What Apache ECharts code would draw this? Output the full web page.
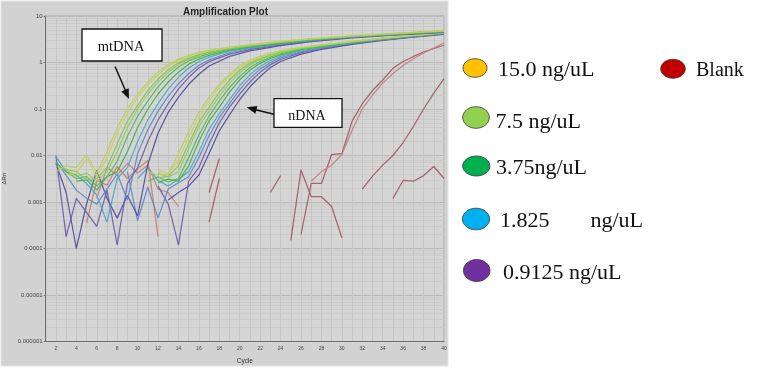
<!DOCTYPE html>
<html><head><meta charset="utf-8">
<script src="https://cdn.jsdelivr.net/npm/echarts@6/dist/echarts.min.js"></script>
<style>html,body{margin:0;padding:0;background:#fff}#c{width:762px;height:368px}</style>
</head><body><div id="c"></div><script>
// ---------- tick labels ----------
const xTickLabels = [2,4,6,8,10,12,14,16,18,20,22,24,26,28,30,32,34,36,38,40];
const yTickLabels = ['0.000001','0.00001','0.0001','0.001','0.01','0.1','1','10'];

// ---------- mtDNA curves [cycle, dRn] ----------
const mt15a = [[2,0.0045],[3,0.006],[4,0.0055],[5,0.0105],[6,0.0042],[7,0.012],[8,0.04],[9,0.1],[10,0.21],[11,0.38],[12,0.62],[13,0.92],[14,1.18],[15,1.42],[16,1.65],[17,1.85],[19,2.15],[21,2.42],[24,2.85],[27,3.25],[31,3.75],[35,4.25],[40,4.85]];
const mt15b = [[3,0.0038],[4,0.0042],[5,0.0085],[6,0.0035],[7,0.009],[8,0.03],[9,0.08],[10,0.18],[11,0.33],[12,0.55],[13,0.84],[14,1.1],[15,1.35],[16,1.58],[17,1.78],[19,2.1],[21,2.38],[24,2.8],[27,3.22],[31,3.72],[35,4.2],[40,4.8]];
const mt7a = [[2,0.006],[3,0.005],[4,0.0045],[5,0.003],[6,0.0032],[7,0.0055],[8,0.018],[9,0.055],[10,0.12],[11,0.25],[12,0.44],[13,0.7],[14,0.99],[15,1.24],[16,1.48],[17,1.7],[19,2.04],[21,2.33],[24,2.76],[27,3.18],[31,3.7],[35,4.18],[40,4.75]];
const mt7b = [[3,0.0048],[4,0.0036],[5,0.0042],[6,0.0028],[7,0.0045],[8,0.012],[9,0.04],[10,0.1],[11,0.21],[12,0.38],[13,0.62],[14,0.92],[15,1.18],[16,1.42],[17,1.65],[19,2.0],[21,2.3],[24,2.72],[27,3.15],[31,3.66],[35,4.15],[40,4.7]];
const mt3a = [[2,0.007],[3,0.0045],[4,0.0032],[5,0.0035],[6,0.0022],[7,0.0035],[8,0.0075],[9,0.026],[10,0.07],[11,0.15],[12,0.3],[13,0.52],[14,0.8],[15,1.08],[16,1.32],[17,1.55],[19,1.93],[21,2.24],[24,2.68],[27,3.1],[31,3.62],[35,4.12],[40,4.68]];
const mt3b = [[4,0.0028],[5,0.003],[6,0.0018],[7,0.0035],[8,0.0045],[9,0.012],[10,0.04],[11,0.1],[12,0.21],[13,0.38],[14,0.62],[15,0.92],[16,1.18],[17,1.42],[19,1.85],[21,2.15],[24,2.62],[27,3.05],[31,3.58],[35,4.1],[40,4.65]];
const mt1a = [[2,0.0095],[3,0.0045],[4,0.0038],[5,0.0025],[6,0.0014],[7,0.00037],[8,0.0032],[9,0.0055],[10,0.02],[11,0.058],[12,0.13],[13,0.27],[14,0.48],[15,0.76],[16,1.04],[17,1.3],[19,1.75],[21,2.08],[24,2.55],[27,3.0],[31,3.55],[35,4.05],[40,4.6]];
const mt1b = [[2,0.0075],[3,0.0038],[4,0.0018],[5,0.0012],[6,0.0009],[7,0.0019],[8,0.004],[9,0.0011],[10,0.011],[11,0.036],[12,0.09],[13,0.19],[14,0.35],[15,0.58],[16,0.87],[17,1.14],[19,1.62],[21,1.98],[24,2.48],[27,2.95],[31,3.5],[35,4.0],[40,4.55]];
const mt09a = [[2,0.01],[3,0.00018],[4,0.0012],[5,0.0006],[6,0.0003],[7,0.0018],[8,0.00012],[9,0.0025],[10,0.0055],[11,0.02],[12,0.058],[13,0.13],[14,0.27],[15,0.48],[16,0.76],[17,1.04],[19,1.52],[21,1.9],[24,2.4],[27,2.88],[31,3.45],[35,3.95],[40,4.5]];
const mt09b = [[2,0.0068],[3,0.0016],[4,0.0001],[5,0.0009],[6,0.0048],[7,0.0012],[8,0.00045],[9,0.0014],[10,0.0005],[11,0.0065],[12,0.03],[13,0.085],[14,0.18],[15,0.34],[16,0.56],[17,0.84],[19,1.35],[21,1.78],[24,2.3],[27,2.8],[31,3.38],[35,3.9],[40,4.45]];

// ---------- nDNA curves ----------
const n15a = [[11,0.0045],[12,0.0038],[13,0.004],[14,0.011],[15,0.033],[16,0.085],[17,0.18],[18,0.34],[19,0.56],[20,0.86],[21,1.12],[22,1.37],[23,1.6],[24,1.8],[26,2.12],[28,2.4],[31,2.85],[34,3.35],[37,3.85],[40,4.4]];
const n15b = [[12,0.0048],[13,0.0041],[14,0.008],[15,0.025],[16,0.068],[17,0.15],[18,0.3],[19,0.5],[20,0.78],[21,1.05],[22,1.3],[23,1.54],[24,1.75],[26,2.08],[28,2.37],[31,2.82],[34,3.32],[37,3.82],[40,4.38]];
const n7a = [[12,0.0033],[13,0.0036],[14,0.006],[15,0.018],[16,0.052],[17,0.11],[18,0.23],[19,0.42],[20,0.68],[21,0.97],[22,1.22],[23,1.47],[24,1.69],[26,2.04],[28,2.33],[31,2.8],[34,3.3],[37,3.8],[40,4.35]];
const n7b = [[12,0.0042],[13,0.0034],[14,0.0045],[15,0.014],[16,0.042],[17,0.09],[18,0.19],[19,0.36],[20,0.6],[21,0.89],[22,1.15],[23,1.4],[24,1.63],[26,2.0],[28,2.3],[31,2.77],[34,3.27],[37,3.77],[40,4.32]];
const n3a = [[11,0.0028],[12,0.0035],[13,0.0027],[14,0.0032],[15,0.009],[16,0.028],[17,0.07],[18,0.15],[19,0.29],[20,0.5],[21,0.78],[22,1.05],[23,1.3],[24,1.54],[26,1.93],[28,2.25],[31,2.72],[34,3.22],[37,3.73],[40,4.3]];
const n3b = [[12,0.0026],[13,0.0031],[14,0.0028],[15,0.006],[16,0.02],[17,0.055],[18,0.11],[19,0.23],[20,0.42],[21,0.68],[22,0.96],[23,1.22],[24,1.46],[26,1.88],[28,2.2],[31,2.68],[34,3.2],[37,3.7],[40,4.28]];
const n1a = [[10,0.0032],[11,0.0055],[12,0.0029],[13,0.0022],[14,0.0031],[15,0.0045],[16,0.012],[17,0.037],[18,0.08],[19,0.16],[20,0.32],[21,0.55],[22,0.82],[23,1.1],[24,1.35],[26,1.78],[28,2.12],[31,2.62],[34,3.15],[37,3.65],[40,4.22]];
const n1b = [[9,0.0045],[10,0.0004],[11,0.0021],[12,0.00045],[13,0.0019],[14,0.0026],[15,0.0035],[16,0.009],[17,0.027],[18,0.065],[19,0.13],[20,0.26],[21,0.46],[22,0.72],[23,1.0],[24,1.26],[26,1.7],[28,2.06],[31,2.57],[34,3.1],[37,3.6],[40,4.18]];
const n09a = [[12,0.0022],[13,0.0009],[14,0.00012],[15,0.0028],[16,0.0055],[17,0.018],[18,0.05],[19,0.11],[20,0.21],[21,0.38],[22,0.62],[23,0.9],[24,1.16],[26,1.62],[28,2.0],[31,2.52],[34,3.05],[37,3.55],[40,4.12]];
const n09b = [[13,0.0011],[14,0.0016],[15,0.0022],[16,0.0038],[17,0.011],[18,0.034],[19,0.075],[20,0.16],[21,0.3],[22,0.5],[23,0.78],[24,1.05],[26,1.52],[28,1.92],[31,2.45],[34,3.0],[37,3.5],[40,4.05]];

// ---------- blank wells ----------
const blank1 = [[5,0.00035],[6,0.0029],[7,0.0023],[8,0.0058],[9,0.0032],[10,0.0052],[11,0.0078],[12,0.00018]];
const blank2 = [[6,0.0012],[7,0.0055],[8,0.0038],[9,0.0068],[10,0.0042],[11,0.0062],[12,0.0019],[13,0.0016],[14,0.0008]];
const blank3 = [[17,0.00037],[18,0.0032]];
const blank4 = [[17,0.0016],[18,0.0086]];
const blank5 = [[23,0.0016],[24,0.0037]];
const blank6 = [[25,0.00015],[26,0.0049],[27,0.0013],[28,0.0013],[29,0.0008],[30,0.00017]];
const blank7 = [[26,0.0002],[27,0.0025],[28,0.0025],[29,0.0105],[30,0.011],[31,0.055],[32,0.13],[33,0.25],[34,0.42],[35,0.75],[36,1.05],[37,1.35],[38,1.68],[39,2.0],[40,2.35]];
const blank8 = [[27,0.0028],[28,0.0045],[29,0.0062],[30,0.0105],[31,0.035],[32,0.1],[33,0.2],[34,0.36],[35,0.58],[36,0.86],[37,1.2],[38,1.6],[39,2.05],[40,2.65]];
const blank9 = [[32,0.0019],[33,0.0036],[34,0.0062],[35,0.01],[36,0.019],[37,0.042],[38,0.1],[39,0.22],[40,0.45]];
const blank10 = [[35,0.0012],[36,0.0029],[37,0.0028],[38,0.0037],[39,0.0058],[40,0.0032]];

// ---------- legend ----------
const legendLabels = ['15.0 ng/uL','7.5 ng/uL','3.75ng/uL','1.825','0.9125 ng/uL'];
const legendUnitSplit = 'ng/uL';
const blankLabel = 'Blank';

// ---------- styling (separate from data) ----------
const C = {c15:'#c8cf5c', c7:'#94cb58', c3:'#3fae4b', c1:'#4aa6c4', c1b:'#5d86c8', c09:'#4c4a9e', bl:'#a05862', bl2:'#c27c84', bl3:'#cf7a5e'};
const seriesDefs = [
  [blank1,C.bl3],[blank2,C.bl2],[blank3,C.bl],[blank4,C.bl],[blank5,C.bl],[blank6,C.bl],[blank7,C.bl],[blank8,C.bl2],[blank9,C.bl],[blank10,C.bl],
  [n09b,C.c09],[n09a,'#6a5aa8'],[n1b,C.c1b],[n1a,C.c1],[n3b,C.c3],[n3a,'#52b85a'],[n7b,C.c7],[n7a,'#86c452'],[n15b,C.c15],[n15a,'#b8d060'],
  [mt09b,C.c09],[mt09a,'#6a5aa8'],[mt1b,C.c1b],[mt1a,C.c1],[mt3b,C.c3],[mt3a,'#52b85a'],[mt7b,C.c7],[mt7a,'#86c452'],[mt15b,C.c15],[mt15a,'#b8d060']
];

const yLabelFor = v => {
  const s = yTickLabels.find(t => Math.abs(Math.log10(+t) - Math.log10(v)) < 1e-6);
  return s || '';
};

const serif = '"Liberation Serif", "Times New Roman", serif';
const sans = '"Liberation Sans", Arial, sans-serif';

const legendRows = [
  {cx:475, cy:68, rx:12, ry:9.3, fill:'#FFC000', tx:498, ty:70, text:legendLabels[0]},
  {cx:476, cy:117.5, rx:13.3, ry:10.8, fill:'#92D050', tx:495.5, ty:122.5, text:legendLabels[1]},
  {cx:476.3, cy:166, rx:13.6, ry:10, fill:'#00B050', tx:496, ty:168.5, text:legendLabels[2]},
  {cx:476, cy:219, rx:13.6, ry:10.8, fill:'#00B0F0', tx:500, ty:221, text:legendLabels[3]},
  {cx:476.7, cy:270.5, rx:13.3, ry:11, fill:'#7030A0', tx:503, ty:273, text:legendLabels[4]}
];

const graphics = [
  {type:'rect', z:-100, shape:{x:1, y:1, width:447, height:365}, style:{fill:'#d2d2d2', stroke:'#e4e4e4', lineWidth:1}, silent:true}
];
legendRows.forEach(r => {
  graphics.push({type:'ellipse', shape:{cx:r.cx, cy:r.cy, rx:r.rx, ry:r.ry}, style:{fill:r.fill, stroke:'#333', lineWidth:0.8}});
  graphics.push({type:'text', x:r.tx, y:r.ty, style:{text:r.text, font:'22px ' + serif, fill:'#111', textVerticalAlign:'middle'}});
});
graphics.push({type:'text', x:590.5, y:221, style:{text:legendUnitSplit, font:'22px ' + serif, fill:'#111', textVerticalAlign:'middle'}});
graphics.push({type:'ellipse', shape:{cx:673, cy:68.8, rx:12.3, ry:9.5}, style:{fill:'#C00000', stroke:'#333', lineWidth:0.8}});
graphics.push({type:'text', x:696, y:71, style:{text:blankLabel, font:'20px ' + serif, fill:'#111', textVerticalAlign:'middle'}});
// annotation boxes
graphics.push({type:'rect', z:50, shape:{x:82, y:29, width:80, height:32}, style:{fill:'#fff', stroke:'#111', lineWidth:1.3}});
graphics.push({type:'text', z:51, x:121, y:47, style:{text:'mtDNA', font:'14.5px ' + serif, fill:'#111', textAlign:'center', textVerticalAlign:'middle'}});
graphics.push({type:'line', z:50, shape:{x1:115, y1:66.5, x2:125.5, y2:90.5}, style:{stroke:'#111', lineWidth:1.5}});
graphics.push({type:'polygon', z:50, shape:{points:[[129,99],[121.3,91.4],[128.7,88.2]]}, style:{fill:'#111'}});
graphics.push({type:'rect', z:50, shape:{x:274, y:98.7, width:68, height:28.6}, style:{fill:'#fff', stroke:'#111', lineWidth:1.3}});
graphics.push({type:'text', z:51, x:307, y:116, style:{text:'nDNA', font:'14px ' + serif, fill:'#111', textAlign:'center', textVerticalAlign:'middle'}});
graphics.push({type:'line', z:50, shape:{x1:274, y1:114.3, x2:255.5, y2:109.7}, style:{stroke:'#111', lineWidth:1.5}});
graphics.push({type:'polygon', z:50, shape:{points:[[246.7,107.3],[257.4,106.0],[255.4,113.8]]}, style:{fill:'#111'}});

const chart = echarts.init(document.getElementById('c'));
chart.setOption({
  backgroundColor:'#ffffff',
  animation:false,
  title:{text:'Amplification Plot', left:178, top:2, textStyle:{fontSize:10, fontWeight:'bold', fontFamily:sans, color:'#222'}},
  grid:{left:45.7, right:318, top:16, bottom:26.5, containLabel:false, outerBoundsMode:'none', show:true, backgroundColor:'#d5d5d5', borderColor:'#a5a5a5', borderWidth:1},
  xAxis:{type:'value', min:1, max:40, interval:1,
    name:'Cycle', nameLocation:'middle', nameGap:16, nameMoveOverlap:false, nameTextStyle:{fontSize:6.5, color:'#333', fontFamily:sans},
    axisLine:{show:true, lineStyle:{color:'#6e6e6e', width:1}}, axisTick:{show:false},
    axisLabel:{fontSize:5, color:'#444', margin:5, fontFamily:sans, formatter:v => xTickLabels.indexOf(v) >= 0 ? String(v) : ''},
    splitLine:{show:true, lineStyle:{color:'#c5c5c5', width:1}}},
  yAxis:{type:'log', logBase:10, min:0.000001, max:10,
    name:'\u0394Rn', nameLocation:'middle', nameGap:38, nameMoveOverlap:false, nameRotate:90, nameTextStyle:{fontSize:6, color:'#333', fontFamily:sans},
    axisLine:{show:true, lineStyle:{color:'#6e6e6e', width:1}}, axisTick:{show:true, length:2, lineStyle:{color:'#777'}},
    axisLabel:{fontSize:6, color:'#444', margin:3, fontFamily:sans, formatter:yLabelFor},
    splitLine:{show:true, lineStyle:{color:'#bababa', width:1}},
    minorTick:{show:false, splitNumber:9}, minorSplitLine:{show:true, lineStyle:{color:'#cbcbcb', width:1}}},
  graphic:graphics,
  series:seriesDefs.map((d,i) => ({type:'line', data:d[0], symbol:'none', silent:true, z:2+i*0.01,
    lineStyle:{color:d[1], width:1.25, opacity:0.9}, itemStyle:{color:d[1]}}))
});
</script></body></html>
